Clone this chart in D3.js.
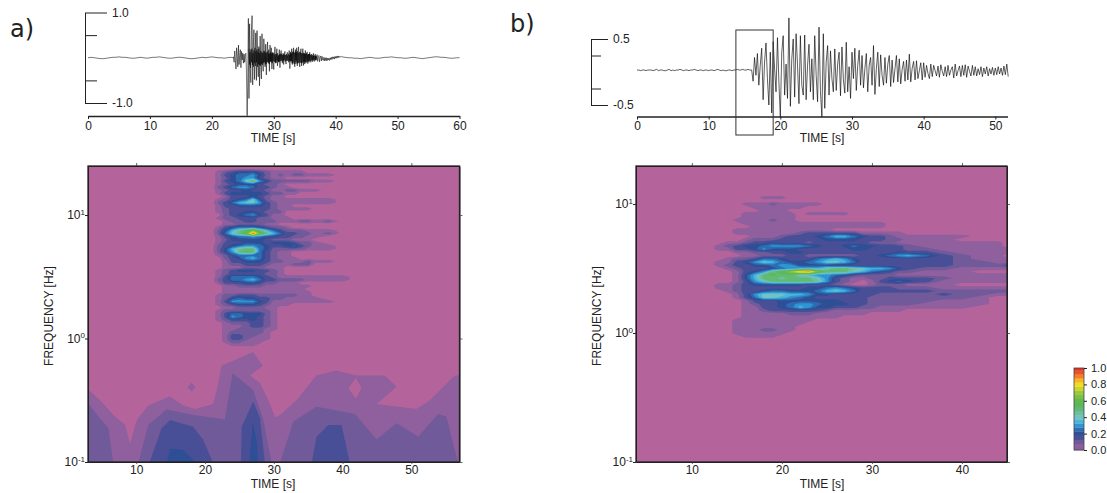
<!DOCTYPE html>
<html>
<head>
<meta charset="utf-8">
<script src="https://cdnjs.cloudflare.com/ajax/libs/d3/7.8.5/d3.min.js"></script>
<style>
  body { margin: 0; background: #fff; }
  text { font-family: "Liberation Sans", Arial, sans-serif; fill: #222; }
</style>
</head>
<body>
<div id="canvas"></div>
<script>
"use strict"

/* seismogram a), amplitudes */
let quietA1 = [0,.01,0,-.01,-.02,-.02,-.01,0,.01,.01,.02,.01,.01,0,-.01,-.01,0,.01,0,-.01,0,.01,.01,.02,.01,0,-.01,-.01,0,.01,.01,0,-.01,-.02,-.02,-.01,0,.01,0,.01,.02,.01,0,0,-.01,0,.01,0];
let burstA = [.02,-.1,.15,-.05,-.25,.22,.03,-.2,.28,-.15,.05,.18,-.22,.14,-.05,.1,-.12,.08,-.1,.07,
  .1,-.35,-1.28,-.6,.87,-.9,.75,-.2,-.55,.6,
  .93,-.6,.2,.62,-.48,.1,.55,-.5,.6,-.05,-.42,.25,-.62,.48,-.15,
  -.47,.53,-.1,-.3,.42,.05,-.2,.3,-.38,.1,.35,-.1,.18,-.3,.28,-.08,.22,-.25,.12,-.1,
  -.26,.1,.24,-.12,.05,.2,-.18,.03,-.1,.18,-.22,.08,.16,-.05,-.12,.1,-.15,.07,.14,-.1,
  -.14,.06,.12,-.05,-.1,.16,-.24,.13,-.08,.2,-.15,.06,.22,-.12,-.2,.18,-.06,.22,-.18,.08,
  .24,-.1,-.2,.12,.2,-.18,.05,.2,-.17,.08,-.14,.16,-.12,.05,.13,-.13,.08,-.1,.12,-.06,
  -.1,.08,.03,-.09,.1,-.04,-.08,.08,-.06,.02,.07,-.08,.03,.05,-.09,.01,.04,-.07,.03,-.05,
  -.06,.01,-.07,0,-.06,0,-.07,-.01,-.05,-.01,-.06,0,-.04,.01,-.04,.02,-.02,.02,-.03,.03,-.01,.03,-.01,.04,0,.04,.01,.03,.02,.03];
let quietA2 = [.02,.01,0,0,-.01,-.01,-.02,-.01,0,.01,0,-.01,-.01,0,.01,.01,.02,.01,0,0,-.01,-.01,0,.01,0,-.01,-.02,-.01,0,.01,.02,.02,.01,.01,0,-.01,-.01,0,0];
/* the high frequency part inside the burst, from 26 s */
let fineA = [.2,-.15,.12,-.22,.18,-.1,.2,-.16,.1,-.2,.16,-.12,.22,-.18,.14,-.1,.18,-.2,.12,-.14,.2,-.16,.1,-.18,.15,
  -.14,.12,-.16,.1,-.12,.15,-.1,.14,-.15,.1,-.13,.12,-.09,.14,-.12,.08,-.14,.1,-.08,.12,-.1,.09,-.12,.1,-.07,.11,-.09,.08,-.1,.07,-.11,.09,-.07,.1,-.08,.06,-.09,
  .08,-.07,.09,-.06,.08,-.08,.06,-.07,.08,-.05,.07,-.08,.06,-.06,.08,-.07,.05,-.06,.09,-.07,.06,-.08,.1,-.07,.09,
  -.12,.13,-.1,.14,-.13,.11,-.14,.13,-.1,.12,-.13,.14,-.11,.1,-.12,.13,-.1,.12,-.11,.1,-.12,.09,-.1,.11,-.09,.1,-.1,.08,-.09,.1,-.08,.07,-.09,.08,-.07,.08,-.06,.07,
  -.07,.05,-.06,.06,-.05,.04,-.06,.05,-.04,.04,-.05,.03,-.04];

/* seismogram b), amplitudes */
let quietB = [.03,.03,.02,.03,.03,.02,.03,.03,.03,.02,.03,.04,.02,.03,.03,.02,.02,.03,.04,.02,.03,.02,.03,.03,.04,.03,.02,.03,.03,.02,.03,.03,.04,.03,.02,.03,.03,.02,.03,.03,.02,.03,.03,.02,.03,.04,.03,.02,.03,.02,.02,.03,.03,.02,.03,.03,.04,.03,.03,.04,.03,.03,.04,.03];
let burstB = [.03,-.14,.22,-.05,.28,-.2,.1,.36,-.42,.15,
  .44,-.1,-.5,.3,-.62,.46,.05,-.3,.52,-.15,
  -.68,.3,.55,-.35,.12,-.4,.82,-.52,.2,.5,
  -.38,.58,.1,-.48,.55,-.2,-.35,.56,-.42,.1,
  .42,-.3,.2,-.42,.55,-.05,-.45,.68,-.3,-.68,
  .58,-.55,.15,.4,-.35,.32,-.1,-.3,.35,-.28,
  .12,.3,-.36,.38,-.12,-.32,.45,-.3,.08,-.4,
  .3,-.1,.36,-.28,.1,.33,-.2,.25,-.24,.05,
  .28,-.3,.1,.22,-.2,.4,-.34,.05,.3,-.22,
  .26,-.05,-.2,.22,-.17,.12,.25,-.22,.18,-.16,
  .05,.25,-.15,.2,-.18,.04,.16,-.14,.18,-.12,
  .27,-.15,.06,.16,-.12,.17,-.1,.02,.14,-.12,
  .14,-.08,.1,-.02,-.1,.12,-.07,.1,.02,-.06,
  .09,-.08,.11,.01,-.06,.08,-.07,.1,-.05,.03,
  .08,-.09,.12,-.06,.02,.09,-.07,.1,-.05,.11,
  -.08,.09,.01,-.06,.1,-.05,.08,-.06,.05,-.04,
  .08,-.07,.06,-.03,.08,-.06,.05,-.03,.07,-.05,
  .06,-.04,.08,-.03,.06,-.05,.09,-.04,.12,-.07];

/* scalogram a), streaks above 1 Hz: one char per cell, base 36, steps of 0.05.
   rows start at column 9 (21 s), log10 f from 1.4 down by 0.025, missing cells are 0 */
let timesA = [3,5,7,9,11,13,15,17,18,21,22,23,24,25,26,27,28,29,30,31,32,33,34,35,36,38,40,42,44,46,48,50,52,54,57];
let upperRowsA = ["","","0123444321111100","013455642121221110","01245663211","013458b6422222211","01234443221","023566533211",
  "0123343321122111","0134444432211","00133343211","01234584211111111","02357886321111111","013344443211","012333333211111","01233443222",
  "00234564311","012233322111","00122332221112212","0011222211","013455543221","02479bda753222111","0258acjca75332212","0134556544332211",
  "012444443222111","0133344434443221","02345665433453211","02479aa5422222111","0246aba53211","012455553211","0023467532111","00133444322111211",
  "001223332111222","00111222111","01234443321","01233333221","013555543211111111","023556753322221111","0133344322111","001122221111111",
  "00111111111111","001111111111111","012233322222211","0124544332211111","01366664311111111","012344432111","0011222211","0122222221",
  "0135544421","0136544321","0123334321","0012223321","0011123321","0011222211","001222221","001332211","001332111","00122111","0001111"];

/* scalogram a), broad bands below 1 Hz: contour outlines as [time s, log10 f] */
let lowBandsA = [
  { level: 1, outline: [[3,-1.01],[3,-.41],[4.75,-.5],[6.7,-.62],[8.4,-.7],[9.1,-.85],[10.1,-.66],[11.8,-.54],[14.9,-.47],[16.85,-.54],[18.55,-.57],[21.2,-.53],[21.95,-.36],[22.4,-.22],[27,-.11],[28.4,-.22],[26.55,-.3],[28,-.36],[29.2,-.5],[30.2,-.64],[30.9,-.62],[33.3,-.5],[36.2,-.3],[39.1,-.26],[42,-.3],[46.15,-.3],[47.85,-.39],[44.95,-.53],[50.75,-.57],[52.7,-.5],[56.3,-.3],[57,-.3],[57,-1.01]] },
  { level: 1, outline: [[17.43,-.395],[18.06,-.358],[18.65,-.395],[18.06,-.43]] },
  { level: 0, outline: [[40.85,-.404],[41.94,-.317],[42.76,-.404],[41.94,-.485]] },
  { level: 2, outline: [[3,-1.01],[3,-.525],[4.75,-.647],[5.96,-.727],[6.68,-1.01]] },
  { level: 2, outline: [[10.3,-1.01],[11.77,-.7],[14.43,-.574],[18.3,-.62],[22.9,-.655],[24.02,-.282],[27,-.417],[28.48,-.66],[29.69,-1.01]] },
  { level: 2, outline: [[30.9,-1.01],[32.84,-.674],[36.22,-.552],[41.8,-.611],[44.94,-.817],[47.85,-.687],[51,-.795],[53.9,-.611],[55.1,-.633],[56.8,-1.01]] },
  { level: 3, outline: [[11.9,-1.01],[13.7,-.727],[14.92,-.66],[18.3,-.714],[19.76,-.822],[21.2,-1.01]] },
  { level: 3, outline: [[25.23,-1.01],[25.33,-.714],[27.02,-.51],[28,-.646],[28.72,-1.01]] },
  { level: 3, outline: [[35.5,-1.01],[36.22,-.795],[37.92,-.7],[39.86,-.7],[41.07,-1.01]] },
  { level: 4, outline: [[14.43,-1.01],[14.92,-.89],[16.85,-.9],[18.8,-1.01]] },
  { level: 4, outline: [[26.44,-1.01],[26.93,-.67],[27.5,-.82],[27.75,-1.01]] }
];

/* scalogram b): rows start at column 2 (11 s), log10 f from 1.05 down by 0.025 */
let timesB = [3.8,10,11,12,13,14,15,16,17,18,19,20,21,22,23,24,25,26,27,28,29,30,31,32,33,34,36,38,40,42,44,45];
let rowsB = ["000000011100","","00000111211111","000000111111","000000011100","00000111111011111","00000111111","00001111211",
  "00000 1111111111111111","000000 111111111111111","0000 11111111111",
  "0000 1111111 2333333 11111",
  "000000 11123334 5775 433211111",
  "00000 122233333444433322111",
  "000 11233433323333332221111111",
  "00 123445666654334544333211111",
  "00 1133464443333334433332211111",
  "0000 11223344333333333343321111",
  "00000 112223322222233456753211",
  "000 122355433356764 33333333 2111",
  "00 1134687544568875 33333333 2211",
  "00 123344566 4444 33333333333 2 2 2 3",
  "000 12333456777 9aa9877643 221111",
  "0000 1346ace hid aaa 8754 322 111",
  "0000 147abaa87665432222 11111111",
  "0000 147aa9aaa8 6321122333 321111",
  "0000 1368aaaaa9 6321013454 311111",
  "00 11 2 3 444444 333 2 1 00 1 222 111",
  "00 1123333333 4456543333 22211111",
  "000 123345544 4578753 333333 22222",
  "0000 1368887764 4333332222 232211",
  "0000 135887654 333333 22222222 1",
  "00000 1333 4444444 333 222222 111",
  "00000 1233456654 4433 22222 1111",
  "00000 1133457644 333 22 1111111",
  "00000 112333333 2 11111111",
  "00000 11111222111111",
  "00000 11111111111",
  "0000 111111111",
  "0000 11111111",
  "0000 1111111",
  "0000 1112211",
  "0000 111111",
  "00000 1111",
  ""];

/* contour levels and their colours */
let thresholds = d3.range(1, 21).map(k => (k - .5) * .05);
let levelColors = ["#8f5e9e","#6f5a9a","#4a5097","#2f4f96","#2f6cb2","#2f95d2","#4cb4d8","#6fc3c4","#6cc0a0","#62bb75",
  "#5cb85a","#62ba4a","#7cc144","#9cc93e","#c8d52e","#f3dc1e","#f9b422","#f47f2a","#ec5228","#e2352a"];
let background = "#b5649b";
let inkColor = "#222";

let drawing = d3.select("#canvas")
    .append("svg")
    .attr("width", 1107)
    .attr("height", 493);

drawing.append("defs").append("filter")
    .attr("id", "soft")
    .append("feGaussianBlur")
    .attr("stdDeviation", 0.3);

function styleAxis(g) {
    g.selectAll("path, line").attr("stroke", inkColor);
    g.selectAll("text").attr("fill", inkColor).attr("font-size", 12);
    return g;
}

/* one cell string per row -> flat value list */
function cellValues(rows, width, startColumn) {
    let values = [];
    rows.forEach(function (row) {
        let cells = row.replace(/ /g, "");
        cells = ("0".repeat(startColumn) + cells).padEnd(width, "0");
        for (let i = 0; i < width; i++) {
            values.push(parseInt(cells[i], 36) * 0.05);
        }
    });
    return values;
}

function drawSeismogram(p) {
    let x = d3.scaleLinear().domain(p.timeDomain).range(p.xRange);
    let y = d3.scaleLinear().domain([-p.ampMax, p.ampMax]).range(p.yRange);

    let line = d3.line().x(d => x(d[0])).y(d => y(d[1]));
    drawing.selectAll(null)
        .data(p.traces)
        .join("path")
        .attr("d", d => line(d))
        .attr("fill", "none")
        .attr("stroke", "#000")
        .attr("stroke-width", p.lineWidth)
        .attr("stroke-opacity", 0.9);

    /* time axis */
    let axis = drawing.append("g")
        .attr("transform", "translate(0," + p.axisY + ")")
        .call(d3.axisBottom(x).tickValues(p.timeTicks).tickSizeInner(3).tickSizeOuter(0).tickPadding(2))
        .call(styleAxis);
    axis.select(".domain").attr("stroke-width", 1.6);
    drawing.append("text")
        .attr("x", p.labelX)
        .attr("y", 142)
        .attr("text-anchor", "middle")
        .attr("font-size", 12)
        .text("TIME [s]");

    /* amplitude scale */
    let ampAxis = d3.axisRight(y).tickValues([-p.ampMax, p.ampMax]).tickSize(p.longTick).tickSizeOuter(0).tickPadding(5);
    drawing.append("g")
        .attr("transform", "translate(" + p.ampX + ",0)")
        .call(ampAxis)
        .call(styleAxis)
        .selectAll("text").text(d => d.toFixed(1));
    drawing.append("g")
        .attr("transform", "translate(" + p.ampX + ",0)")
        .call(d3.axisRight(y).tickValues([-p.ampMax / 2, p.ampMax / 2]).tickSize(p.shortTick).tickSizeOuter(0).tickFormat(""))
        .call(styleAxis)
        .select(".domain").remove();
}

function drawScalogram(p) {
    let x = d3.scaleLinear().domain(p.timeDomain).range(p.xRange);
    let y = d3.scaleLog().domain(p.freqDomain).range(p.yRange);

    let n = p.times.length;
    let m = p.rowLogFreq.length;
    let contours = d3.contours().size([n, m]).thresholds(thresholds)(p.values);

    /* grid index -> time/frequency -> pixel */
    let gridX = d3.scaleLinear().domain(p.times.map((t, i) => i + .5)).range(p.times.map(t => x(t)));
    let gridY = d3.scaleLinear().domain(p.rowLogFreq.map((l, i) => i + .5)).range(p.rowLogFreq.map(l => y(Math.pow(10, l))));
    let path = d3.geoPath(d3.geoTransform({
        point: function (a, b) { this.stream.point(gridX(a), gridY(b)); }
    }));

    drawing.append("clipPath").attr("id", p.id)
        .append("rect")
        .attr("x", p.xRange[0]).attr("y", p.yRange[1])
        .attr("width", p.xRange[1] - p.xRange[0]).attr("height", p.yRange[0] - p.yRange[1]);

    let plot = drawing.append("g").attr("clip-path", "url(#" + p.id + ")");
    plot.append("rect")
        .attr("x", p.xRange[0]).attr("y", p.yRange[1])
        .attr("width", p.xRange[1] - p.xRange[0]).attr("height", p.yRange[0] - p.yRange[1])
        .attr("fill", background);
    let soft = plot.append("g").attr("filter", "url(#soft)");

    /* outlined bands first, grid contours on top */
    let outline = d3.line().x(d => x(d[0])).y(d => y(Math.pow(10, d[1])));
    soft.selectAll("path.band")
        .data(p.bands || [])
        .join("path")
        .attr("class", "band")
        .attr("d", d => outline(d.outline) + "Z")
        .attr("fill", d => d.level === 0 ? background : levelColors[d.level - 1]);
    soft.selectAll("path.grid")
        .data(contours)
        .join("path")
        .attr("class", "grid")
        .attr("d", d => path(d))
        .attr("fill", (d, i) => levelColors[i]);

    /* frame and ticks */
    let bottom = drawing.append("g")
        .attr("transform", "translate(0," + p.yRange[0] + ")")
        .call(d3.axisBottom(x).tickValues(p.timeTicks).tickSizeInner(2).tickSizeOuter(0).tickPadding(1))
        .call(styleAxis);
    bottom.selectAll("line").attr("stroke", "#666");
    drawing.append("g")
        .attr("transform", "translate(0," + p.yRange[1] + ")")
        .call(d3.axisTop(x).tickValues(p.timeTicks).tickSizeInner(3).tickSizeOuter(0).tickFormat(""))
        .call(styleAxis)
        .selectAll("line").attr("stroke", "#666");
    drawing.append("g")
        .attr("transform", "translate(" + p.xRange[1] + ",0)")
        .call(d3.axisRight(y).tickValues(p.freqTicks).tickSizeInner(3).tickSizeOuter(0).tickFormat(""))
        .call(styleAxis)
        .selectAll("line").attr("stroke", "#666");
    let left = drawing.append("g")
        .attr("transform", "translate(" + p.xRange[0] + ",0)")
        .call(d3.axisLeft(y).tickValues(p.freqTicks).tickSizeInner(3).tickSizeOuter(0).tickFormat(""))
        .call(styleAxis);
    left.selectAll(".tick").append("text")
        .attr("x", -3)
        .attr("text-anchor", "end")
        .attr("dy", "0.32em")
        .attr("font-size", 12)
        .each(function (d) {
            let t = d3.select(this);
            t.append("tspan").text("10");
            t.append("tspan").attr("font-size", 8).attr("dy", "-0.6em").text(Math.round(Math.log10(d)).toString());
        });

    drawing.append("rect")
        .attr("x", p.xRange[0]).attr("y", p.yRange[1])
        .attr("width", p.xRange[1] - p.xRange[0]).attr("height", p.yRange[0] - p.yRange[1])
        .attr("fill", "none")
        .attr("stroke", inkColor)
        .attr("stroke-width", 1.3);

    drawing.append("text")
        .attr("x", p.labelX)
        .attr("y", 488)
        .attr("text-anchor", "middle")
        .attr("font-size", 12)
        .text("TIME [s]");
    drawing.append("text")
        .attr("transform", "translate(" + p.freqLabelX + ",316) rotate(-90)")
        .attr("text-anchor", "middle")
        .attr("font-size", 12)
        .text("FREQUENCY [Hz]");
}

function timed(series) {
    let points = [];
    series.forEach(function (s) {
        s.values.forEach((v, i) => points.push([s.start + i * s.step, v]));
    });
    return points;
}

/* panel a) */
drawSeismogram({
    traces: [
        timed([
            { values: quietA1, start: 0, step: 0.5 },
            { values: burstA, start: 23.5, step: 0.1 },
            { values: quietA2, start: 41, step: 0.5 }
        ]),
        timed([{ values: fineA, start: 26, step: 0.08 }])
    ],
    timeDomain: [0, 60], xRange: [88, 459.5], axisY: 116,
    timeTicks: [0, 10, 20, 30, 40, 50, 60], labelX: 273,
    ampMax: 1, yRange: [103, 12.5], ampX: 85, longTick: 22, shortTick: 12, lineWidth: 0.6
});

drawScalogram({
    id: "clipA",
    times: timesA,
    rowLogFreq: d3.range(59).map(k => 1.4 - k * 0.025).concat([-0.075, -1]),
    values: cellValues(upperRowsA, timesA.length, 9).concat(cellValues(["", ""], timesA.length, 0)),
    bands: lowBandsA,
    timeDomain: [3, 57], xRange: [88, 459.5],
    freqDomain: [0.1, Math.pow(10, 1.397)], yRange: [462, 166],
    timeTicks: [10, 20, 30, 40, 50], freqTicks: [0.1, 1, 10],
    labelX: 273, freqLabelX: 53
});

/* panel b) */
drawSeismogram({
    traces: [
        timed([
            { values: quietB, start: 0, step: 0.25 },
            { values: burstB, start: 16, step: 0.2 }
        ])
    ],
    timeDomain: [0, 51.7], xRange: [637, 1007.5], axisY: 116.5,
    timeTicks: [0, 10, 20, 30, 40, 50], labelX: 822,
    ampMax: 0.5, yRange: [105, 39], ampX: 591, longTick: 17, shortTick: 10, lineWidth: 0.7
});

/* small window over the onset of the trace */
let onsetX = d3.scaleLinear().domain([0, 51.7]).range([637, 1007.5]);
drawing.append("rect")
    .attr("x", onsetX(13.8))
    .attr("y", 30)
    .attr("width", onsetX(19) - onsetX(13.8))
    .attr("height", 105)
    .attr("fill", "none")
    .attr("stroke", "#333")
    .attr("stroke-width", 1);

drawScalogram({
    id: "clipB",
    times: timesB,
    rowLogFreq: [1.3, 1.075].concat(d3.range(45).map(k => 1.05 - k * 0.025)).concat([-0.075, -1]),
    values: cellValues(["", ""], timesB.length, 0)
        .concat(cellValues(rowsB, timesB.length, 2))
        .concat(cellValues(["", ""], timesB.length, 0)),
    timeDomain: [3.8, 45], xRange: [636, 1007],
    freqDomain: [0.1, Math.pow(10, 1.295)], yRange: [462, 166],
    timeTicks: [10, 20, 30, 40], freqTicks: [0.1, 1, 10],
    labelX: 822, freqLabelX: 601
});

/* panel letters */
drawing.append("text").attr("x", 10).attr("y", 37)
    .style("font-family", "DejaVu Sans")
    .attr("font-size", 24).text("a)");
drawing.append("text").attr("x", 510).attr("y", 32)
    .style("font-family", "DejaVu Sans")
    .attr("font-size", 24).text("b)");

/* colour bar */
let barScale = d3.scaleLinear().domain([0, 1]).range([450, 368]);
let barEdges = [0].concat(thresholds).concat([1]);
drawing.append("g").selectAll("rect")
    .data(d3.range(barEdges.length - 1))
    .join("rect")
    .attr("x", 1074)
    .attr("width", 10)
    .attr("y", i => barScale(barEdges[i + 1]))
    .attr("height", i => barScale(barEdges[i]) - barScale(barEdges[i + 1]) + 0.3)
    .attr("fill", i => i === 0 ? levelColors[0] : levelColors[i - 1]);
drawing.append("rect")
    .attr("x", 1074).attr("y", 368).attr("width", 10).attr("height", 82)
    .attr("fill", "none").attr("stroke", "#444").attr("stroke-width", 0.8);
drawing.append("g")
    .attr("transform", "translate(1084,0)")
    .call(d3.axisRight(barScale).tickValues([0, .2, .4, .6, .8, 1]).tickSizeInner(3).tickSizeOuter(0).tickPadding(4).tickFormat(d3.format(".1f")))
    .call(styleAxis)
    .call(g => g.select(".domain").remove())
    .selectAll("text").attr("font-size", 11);
</script>
</body>
</html>
